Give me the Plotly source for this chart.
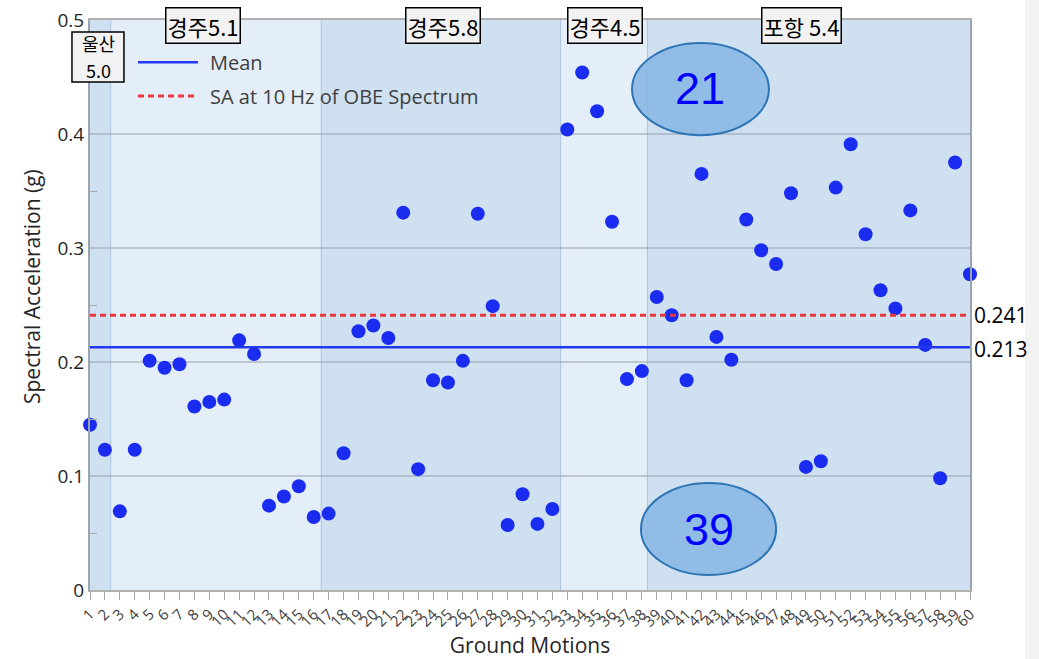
import plotly.graph_objects as go

# Ground motion numbers and their spectral acceleration at 10 Hz (g)
motions = list(range(1, 61))
motion_labels = [str(m) for m in motions]
sa_values = [
    0.145, 0.123, 0.069, 0.123, 0.201, 0.195, 0.198, 0.161, 0.165, 0.167,
    0.219, 0.207, 0.074, 0.082, 0.091, 0.064, 0.067, 0.120, 0.227, 0.232,
    0.221, 0.331, 0.106, 0.184, 0.182, 0.201, 0.330, 0.249, 0.057, 0.084,
    0.058, 0.071, 0.404, 0.454, 0.420, 0.323, 0.185, 0.192, 0.257, 0.241,
    0.184, 0.365, 0.222, 0.202, 0.325, 0.298, 0.286, 0.348, 0.108, 0.113,
    0.353, 0.391, 0.312, 0.263, 0.247, 0.333, 0.215, 0.098, 0.375, 0.277,
]
mean_sa = 0.213
obe_sa = 0.241

# Earthquake groups: label and the x-extent of their shaded band
group_names = ["경주5.1", "경주5.8", "경주4.5", "포항 5.4"]
ulsan_lines = ["울산", "5.0"]
group_bounds = [1.0, 2.39, 16.5, 32.55, 38.37, 60.0]
group_shades = ["#cfe0f1", "#e4eef8", "#cfe0f1", "#e4eef8", "#cfe0f1"]

# Counts of motions above / below the OBE value
count_above = "21"
count_below = "39"

LATIN = "Open Sans, Noto Sans CJK KR, sans-serif"
KOREAN = "Noto Sans CJK KR, Open Sans, sans-serif"

fig = go.Figure()

fig.add_trace(go.Scatter(
    x=motions, y=sa_values, mode="markers",
    marker=dict(size=14, color="#1a2cf0", line=dict(width=0)),
    cliponaxis=False, showlegend=False,
))
fig.add_trace(go.Scatter(
    x=[motions[0], motions[-1]], y=[obe_sa, obe_sa], mode="lines",
    line=dict(color="#e8363c", width=3, dash="6px,4px"),
    showlegend=False, cliponaxis=False,
))
fig.add_trace(go.Scatter(
    x=[motions[0], motions[-1]], y=[mean_sa, mean_sa], mode="lines",
    line=dict(color="#2337ee", width=2.5),
    showlegend=False, cliponaxis=False,
))

shapes = []
for i, shade in enumerate(group_shades):
    shapes.append(dict(
        type="rect", xref="x", yref="y", layer="below",
        x0=group_bounds[i], x1=group_bounds[i + 1], y0=0, y1=0.5,
        fillcolor=shade, line=dict(width=0),
    ))
for b in group_bounds[1:-1]:
    shapes.append(dict(
        type="line", xref="x", yref="y", layer="below",
        x0=b, x1=b, y0=0, y1=0.5,
        line=dict(color="rgba(140,175,215,0.6)", width=1),
    ))

# Ellipses holding the counts
shapes.append(dict(
    type="circle", xref="x", yref="y", layer="above",
    x0=37.34, x1=46.52, y0=0.399, y1=0.4798,
    fillcolor="rgba(136,182,226,0.88)", line=dict(color="#2e75b6", width=2),
))
shapes.append(dict(
    type="circle", xref="x", yref="y", layer="above",
    x0=37.94, x1=47.0, y0=0.0132, y1=0.0939,
    fillcolor="rgba(136,182,226,0.88)", line=dict(color="#2e75b6", width=2),
))

# Box around the two-line 울산 label (paper coords so it may cross the axis)
shapes.append(dict(
    type="rect", xref="paper", yref="paper", layer="above",
    x0=-0.0205, x1=0.0386, y0=0.8912, y1=0.9789,
    fillcolor="#f2f2f2", line=dict(color="#000000", width=1.5),
))

# Legend samples
shapes.append(dict(type="line", xref="x", yref="y", x0=4.22, x1=8.24,
                   y0=0.463, y1=0.463, line=dict(color="#2337ee", width=2.5)))
shapes.append(dict(type="line", xref="x", yref="y", x0=4.22, x1=8.24,
                   y0=0.4333, y1=0.4333,
                   line=dict(color="#e8363c", width=3, dash="6px,4px")))

# Faint strip at the right edge of the page
shapes.append(dict(type="rect", xref="paper", yref="paper", layer="below",
                   x0=1.0625, x1=1.08, y0=-0.13, y1=1.05,
                   fillcolor="#f3f3f3", line=dict(width=0)))

annotations = []
group_centers = [8.58, 24.70, 35.5, 48.7]
for name, cx in zip(group_names, group_centers):
    annotations.append(dict(
        x=cx, xref="x", y=0.991, yref="paper",
        text=name, showarrow=False, xanchor="center", yanchor="middle",
        font=dict(family=KOREAN, size=22, color="#000000"),
        bgcolor="#f2f2f2", bordercolor="#000000", borderwidth=1.5,
        borderpad=1, align="center",
    ))
for line_text, ly in zip(ulsan_lines, [0.9596, 0.9123]):
    annotations.append(dict(
        x=0.0091, xref="paper", y=ly, yref="paper", text=line_text, showarrow=False,
        xanchor="center", yanchor="middle",
        font=dict(family=KOREAN, size=18, color="#000000"),
    ))

annotations.append(dict(x=41.93, y=0.4395, xref="x", yref="y", text=count_above,
                        showarrow=False, font=dict(family="Liberation Sans, Arial",
                                                   size=45, color="#0000ff")))
annotations.append(dict(x=42.47, y=0.0535, xref="x", yref="y", text=count_below,
                        showarrow=False, font=dict(family="Liberation Sans, Arial",
                                                   size=45, color="#0000ff")))

annotations.append(dict(x=8.91, y=0.463, xref="x", yref="y", text="Mean",
                        showarrow=False, xanchor="left", yanchor="middle",
                        font=dict(family=LATIN, size=20, color="#404040")))
annotations.append(dict(x=8.91, y=0.4333, xref="x", yref="y",
                        text="SA at 10 Hz of OBE Spectrum",
                        showarrow=False, xanchor="left", yanchor="middle",
                        font=dict(family=LATIN, size=20, color="#404040")))

annotations.append(dict(x=1, xref="paper", y=obe_sa, yref="y", text=f"{obe_sa:.3f}",
                        showarrow=False, xanchor="left", yanchor="middle", xshift=2,
                        font=dict(family=LATIN, size=21, color="#000000")))
annotations.append(dict(x=1, xref="paper", y=mean_sa, yref="y", text=f"{mean_sa:.3f}",
                        showarrow=False, xanchor="left", yanchor="middle", xshift=2,
                        yshift=-2, font=dict(family=LATIN, size=21, color="#000000")))

# Y-axis title, placed as a rotated label
annotations.append(dict(x=-0.0659, xref="paper", y=0.5316, yref="paper",
                        text="Spectral Acceleration (g)", textangle=-90,
                        showarrow=False, xanchor="center", yanchor="middle",
                        font=dict(family=LATIN, size=21, color="#262626")))

fig.update_layout(
    width=1039, height=659,
    margin=dict(l=90, r=69, t=20, b=69),
    paper_bgcolor="#ffffff", plot_bgcolor="#e4eef8",
    font=dict(family=LATIN, color="#404040"),
    shapes=shapes, annotations=annotations,
    showlegend=False,
)

fig.update_xaxes(
    range=[1, 60], tickmode="array", tickvals=motions, ticktext=motion_labels,
    tickangle=-45, ticks="outside", ticklen=8, tickcolor="#a6a6a6", tickwidth=1,
    tickfont=dict(family=LATIN, size=15, color="#404040"),
    showgrid=False, zeroline=False, automargin=False,
    showline=True, linecolor="#b0b0b0", linewidth=1.5, mirror=True,
    title=dict(text="Ground Motions", font=dict(family=LATIN, size=21, color="#262626"),
               standoff=10),
)
fig.update_yaxes(
    range=[0, 0.5], dtick=0.1, tick0=0, automargin=False,
    ticks="", tickfont=dict(family=LATIN, size=19, color="#262626"),
    showgrid=True, gridcolor="rgba(140,150,165,0.45)", gridwidth=1.5,
    zeroline=False,
    minor=dict(dtick=0.05, ticks="inside", ticklen=7, tickcolor="#a6a6a6", showgrid=False),
    showline=True, linecolor="#9aa4ae", linewidth=2, mirror=True,
)

fig.write_html("out.html")
